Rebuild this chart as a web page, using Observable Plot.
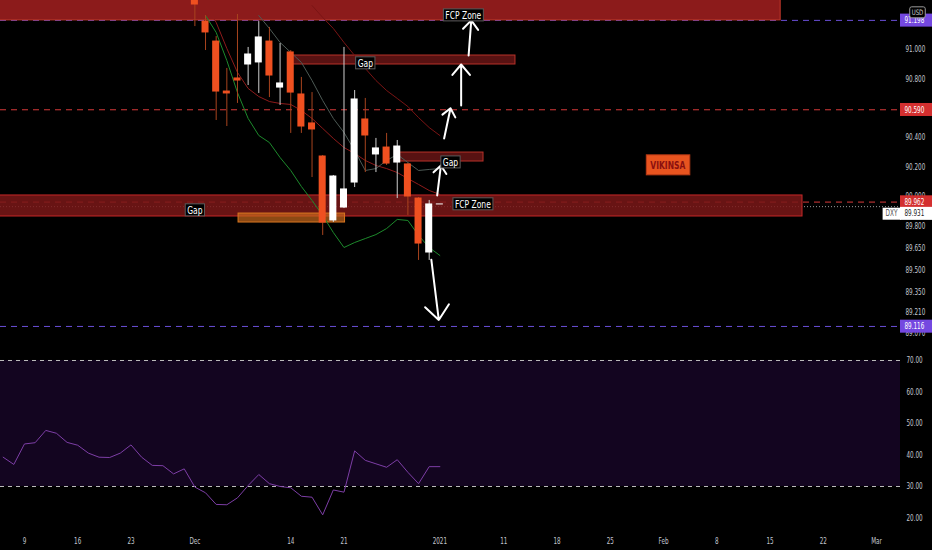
<!DOCTYPE html>
<html><head><meta charset="utf-8">
<script src="https://cdn.jsdelivr.net/npm/d3@7"></script>
<script src="https://cdn.jsdelivr.net/npm/@observablehq/plot@0.6"></script>
<style>
html,body{margin:0;padding:0;background:#000;}
#chart{width:932px;height:550px;overflow:hidden;background:#000;}
svg{display:block;}
</style>
</head><body><div id="chart"></div>
<script>
// ---------- data (x = trading-day index, 0 = Mon 9 Nov 2020) ----------
const candleDay = [16,17,18,19,20,21,22,23,24,25,26,27,28,29,30,31,32,33,34,35,36,37,38,39];
const candleOpen  = [91.435,91.190,91.054,90.714,90.803,90.898,90.912,91.054,90.741,90.980,90.694,90.497,90.272,89.837,89.925,90.095,90.524,90.286,90.333,90.231,90.218,89.986,89.619,89.946];
const candleHigh  = [91.503,91.231,91.088,90.871,91.238,91.014,91.190,91.150,91.041,90.993,90.810,90.707,90.279,90.143,91.014,90.721,90.667,90.395,90.429,90.381,90.224,89.993,89.973,89.946];
const candleLow   = [91.156,90.993,90.517,90.476,90.633,90.755,90.701,90.673,90.619,90.429,90.429,90.129,89.735,89.823,89.918,90.061,90.163,90.163,90.211,89.986,89.871,89.565,89.565,89.946];
const candleClose = [91.306,91.116,90.714,90.701,90.789,90.966,91.082,90.823,90.769,90.707,90.476,90.456,89.823,90.136,90.048,90.660,90.415,90.327,90.224,90.340,90.000,89.680,89.946,89.946];

const fastDay = [17,18,19,20,21,22,23,24,25,26,27,28,29,30,31,32,33,34,35,36,37,38,39];
const fastValue = [91.231,91.116,90.925,90.707,90.531,90.415,90.367,90.265,90.177,90.068,89.973,89.871,89.755,89.653,89.687,89.714,89.741,89.782,89.844,89.837,89.735,89.653,89.599];

const midDay = [17,18,19,20,21,22,23,24,25,26,27,28,29,30,31,32,33,34,35,36,37,38,39];
const midValue = [91.299,91.184,91.007,90.844,90.735,90.680,90.646,90.633,90.626,90.585,90.531,90.463,90.395,90.333,90.293,90.245,90.211,90.190,90.163,90.122,90.082,90.041,90.014];

const greyDay = [22,23,24,25,26,27,28,29,30,31,32,33,34,35,36,37,38,39];
const greyValue = [91.231,91.143,91.048,90.980,90.912,90.789,90.653,90.531,90.435,90.313,90.177,90.190,90.245,90.286,90.231,90.177,90.184,90.190];

const slowDay = [27,28,29,30,31,32,33,34,35,36,37,38,39];
const slowValue = [91.299,91.218,91.143,91.048,90.959,90.871,90.789,90.721,90.667,90.612,90.537,90.469,90.415];

const rsiDay = [-2,-1,0,1,2,3,4,5,6,7,8,9,10,11,12,13,14,15,16,17,18,19,20,21,22,23,24,25,26,27,28,29,30,31,32,33,34,35,36,37,38,39];
const rsiValue = [39.3,37.0,43.5,43.9,47.8,46.9,44.0,43.1,40.6,39.3,39.2,40.6,43.2,39.3,36.7,36.6,34.0,35.6,29.8,28.0,24.3,24.2,26.4,30.3,33.8,30.9,30.0,29.6,26.9,26.6,21.0,28.9,28.2,41.3,38.3,37.2,36.1,38.5,34.5,30.9,36.3,36.3];
const rsiBounds = [30, 70];
const rsiTicks = [20,30,40,50,60,70];

const xTickDay   = [0,5,10,16,25,30,39,45,50,55,60,65,70,75,80];
const xTickLabel = ["9","16","23","Dec","14","21","2021","11","18","25","Feb","8","15","22","Mar"];
const priceTicks = [91.0,90.8,90.4,90.2,90.0,89.8,89.65,89.5,89.35,89.21,89.07];

// drawn zones
const zoneKind  = ["fcpTop","fcp","gap","gap","orange"];
const zoneDay1  = [-3,-3,25,35,20.1];
const zoneDay2  = [71.0,73.05,46.1,43.1,30.1];
const zoneLow   = [91.198,89.864,90.898,90.238,89.823];
const zoneHigh  = [91.60,90.007,90.959,90.299,89.884];

// horizontal levels
const levelKind  = ["target","resistance","resistance","target"];
const levelPrice = [91.198,90.590,89.962,89.116];
const lastPrice = 89.931;
const symbol = "DXY";
const currency = "USD";

// text notes
const noteText  = ["FCP Zone","FCP Zone","Gap","Gap","Gap"];
const noteDay   = [41.2,42.1,16.0,32.0,40.0];
const notePrice = [91.231,89.946,89.905,90.905,90.231];

const brandText = ["VIKINSA"];
const brandDay = [60.4];
const brandPrice = [90.211];

// arrows
const arrowDay1   = [38.2,38.75,39.4,41.0,41.7];
const arrowPrice1 = [89.570,90.007,90.395,90.619,90.959];
const arrowDay2   = [38.9,39.1,40.0,41.0,41.95];
const arrowPrice2 = [89.160,90.211,90.600,90.898,91.198];

// ---------- build ----------
const FONT = "'DejaVu Sans Condensed','DejaVu Sans',sans-serif";
const AXIS = "#c3c6ce";
const xDomain = [-2.25, 82.25];
const fmt3 = d3.format(".3f");

const candles = candleDay.map((d,k)=>({day:d, open:candleOpen[k], high:candleHigh[k], low:candleLow[k], close:candleClose[k], up:candleClose[k]>=candleOpen[k]}));
const series = (days, vals) => days.map((d,k)=>({day:d, v:vals[k]}));
const zones = zoneKind.map((k,i)=>({kind:k, d1:zoneDay1[i], d2:zoneDay2[i], lo:zoneLow[i], hi:zoneHigh[i]}));
const levels = levelKind.map((k,i)=>({kind:k, price:levelPrice[i]}));
const notes = noteText.map((t,i)=>({text:t, day:noteDay[i], price:notePrice[i]}));
const brand = brandText.map((t,i)=>({text:t, day:brandDay[i], price:brandPrice[i]}));
const arrows = arrowDay1.map((d,i)=>({x1:d, y1:arrowPrice1[i], x2:arrowDay2[i], y2:arrowPrice2[i]}));

const zoneFill    = {fcpTop:"#8c1b1b", fcp:"#7a1818", gap:"#621414", orange:"#c8681c"};
const zoneOpacity = {fcpTop:1, fcp:0.85, gap:0.9, orange:0.7};
const zoneStroke  = {fcpTop:"#c0392b", fcp:"#c62828", gap:"#b8322a", orange:"#d9771f"};
const levelColor = {target:"#7448e0", resistance:"#d32f2f"};
const levelLine  = {target:"#6a4fd8", resistance:"#d63a3a"};

const pricePlot = Plot.plot({
  width: 932, height: 350,
  marginLeft: 0, marginRight: 32, marginTop: 0, marginBottom: 0,
  style: {background:"#000", color:AXIS, fontFamily:FONT, fontSize:"8.5px", overflow:"visible"},
  x: {domain: xDomain, axis: null},
  y: {domain: [88.9524, 91.3333], ticks: priceTicks, tickFormat: fmt3, tickSize: 0, tickPadding: 5, axis: "right", label: null},
  marks: [
    Plot.ruleY(levels, {y:"price", stroke:d=>levelLine[d.kind], strokeDasharray:"6,5", strokeWidth:1}),
    Plot.ruleY([lastPrice], {stroke:"#9a9a9a", strokeDasharray:"1,2", strokeWidth:1}),
    Plot.rect(zones, {x1:"d1", x2:"d2", y1:"lo", y2:"hi", fill:d=>zoneFill[d.kind], fillOpacity:d=>zoneOpacity[d.kind], stroke:d=>zoneStroke[d.kind], strokeWidth:1, clip:true}),
    Plot.line(series(slowDay, slowValue), {x:"day", y:"v", stroke:"#7a1414", strokeWidth:1, clip:true}),
    Plot.line(series(midDay, midValue), {x:"day", y:"v", stroke:"#8e1b1b", strokeWidth:1, clip:true}),
    Plot.line(series(greyDay, greyValue), {x:"day", y:"v", stroke:"#4d5a55", strokeWidth:1, clip:true}),
    Plot.line(series(fastDay, fastValue), {x:"day", y:"v", stroke:"#1d8a2c", strokeWidth:1, clip:true}),
    Plot.ruleX(candles, {x:"day", y1:"low", y2:"high", stroke:d=>d.up?"#cfcfcf":"#a8441e", strokeWidth:1, clip:true}),
    Plot.rect(candles, {x1:d=>d.day-0.33, x2:d=>d.day+0.33, y1:"open", y2:"close", fill:d=>d.up?"#ffffff":"#ef5020", insetTop:-0.5, insetBottom:-0.5, clip:true}),
    Plot.arrow(arrows, {x1:"x1", y1:"y1", x2:"x2", y2:"y2", stroke:"#ffffff", strokeWidth:2, headLength:14, headAngle:80}),
    Plot.text(notes, {x:"day", y:"price", text:"text", fill:"#ffffff", fontSize:10.5}),
    Plot.text(brand, {x:"day", y:"price", text:"text", fill:"#8a0f0f", fontSize:10.5, fontWeight:"bold"}),
    Plot.text(levels, {x:xDomain[1], y:"price", text:d=>fmt3(d.price), textAnchor:"start", dx:4, fill:"#ffffff", fontSize:8.5}),
    Plot.text([lastPrice], {x:xDomain[1], y:d=>d, text:d=>fmt3(d), textAnchor:"start", dx:4, dy:7, fill:"#222", fontSize:8.5}),
    Plot.text([lastPrice], {x:xDomain[1], y:d=>d, text:()=>symbol, textAnchor:"end", dx:-3, dy:7, fill:"#555", fontSize:8}),
    Plot.text([currency], {frameAnchor:"top-right", dx:17, dy:9, textAnchor:"middle", fill:"#d0d0d0", fontSize:7.5})
  ]
});

const rsiPlot = Plot.plot({
  width: 932, height: 200,
  marginLeft: 0, marginRight: 32, marginTop: 0, marginBottom: 20,
  style: {background:"#000", color:AXIS, fontFamily:FONT, fontSize:"8.5px", overflow:"visible"},
  x: {domain: xDomain, ticks: xTickDay, tickFormat: d=>xTickLabel[xTickDay.indexOf(d)], tickSize: 0, tickPadding: 7, axis:"bottom", label: null},
  y: {domain: [16.03, 73.17], ticks: rsiTicks, tickFormat: d3.format(".2f"), tickSize: 0, tickPadding: 6, axis:"right", label: null},
  marks: [
    Plot.rect([rsiBounds], {x1:xDomain[0], x2:xDomain[1], y1:d=>d[0], y2:d=>d[1], fill:"#130520"}),
    Plot.ruleY(rsiBounds, {stroke:"#bdbdbd", strokeDasharray:"4,4", strokeWidth:1}),
    Plot.line(series(rsiDay, rsiValue), {x:"day", y:"v", stroke:"#7d3ea6", strokeWidth:1})
  ]
});

const chart = document.getElementById("chart");
chart.appendChild(pricePlot);
chart.appendChild(rsiPlot);

// ---------- post-processing: condensed text + label backgrounds ----------
const NS = "http://www.w3.org/2000/svg";
function condense(el, factor) {
  const L = el.getComputedTextLength();
  if (L > 0) { el.setAttribute("textLength", (L*factor).toFixed(2)); el.setAttribute("lengthAdjust", "spacingAndGlyphs"); }
}
function box(el, opt) {
  const b = el.getBBox();
  const r = document.createElementNS(NS, "rect");
  let x = b.x - opt.padX, w = b.width + 2*opt.padX;
  if (opt.left != null) {
    const m = el.getCTM();
    x = (opt.left - m.e) / m.a; w = opt.width;
  }
  r.setAttribute("x", x);
  r.setAttribute("y", b.y - opt.padY);
  r.setAttribute("width", w);
  r.setAttribute("height", b.height + 2*opt.padY);
  r.setAttribute("fill", opt.fill);
  if (opt.stroke) { r.setAttribute("stroke", opt.stroke); r.setAttribute("stroke-width", 1); }
  if (opt.rx) r.setAttribute("rx", opt.rx);
  const t = el.getAttribute("transform");
  if (t) r.setAttribute("transform", t);
  el.parentNode.insertBefore(r, el);
  d3.select(el.parentNode).raise();
}
const levelByText = new Map(levels.map(l => [fmt3(l.price), l]));
Array.from(pricePlot.querySelectorAll("text")).forEach(el => {
  const s = el.textContent;
  if (noteText.includes(s)) { condense(el, 0.8); box(el, {fill:"#000", stroke:"#5a5a5a", padX:2, padY:0}); }
  else if (brandText.includes(s)) { condense(el, 0.8); box(el, {fill:"#e8541f", stroke:"#b83a16", padX:4, padY:4}); }
  else if (levelByText.has(s)) { condense(el, 0.74); box(el, {fill:levelColor[levelByText.get(s).kind], padX:2, padY:1.5, left:900, width:32}); }
  else if (s === fmt3(lastPrice)) { condense(el, 0.74); box(el, {fill:"#ffffff", padX:2, padY:1.5, left:900, width:32}); }
  else if (s === symbol) { condense(el, 0.8); box(el, {fill:"#ffffff", padX:3, padY:1.5}); }
  else if (s === currency) { condense(el, 0.8); box(el, {fill:"#000", stroke:"#9a9a9a", padX:2, padY:1, rx:2}); }
  else condense(el, 0.74);
});
Array.from(rsiPlot.querySelectorAll("text")).forEach(el => condense(el, 0.74));
</script></body></html>
